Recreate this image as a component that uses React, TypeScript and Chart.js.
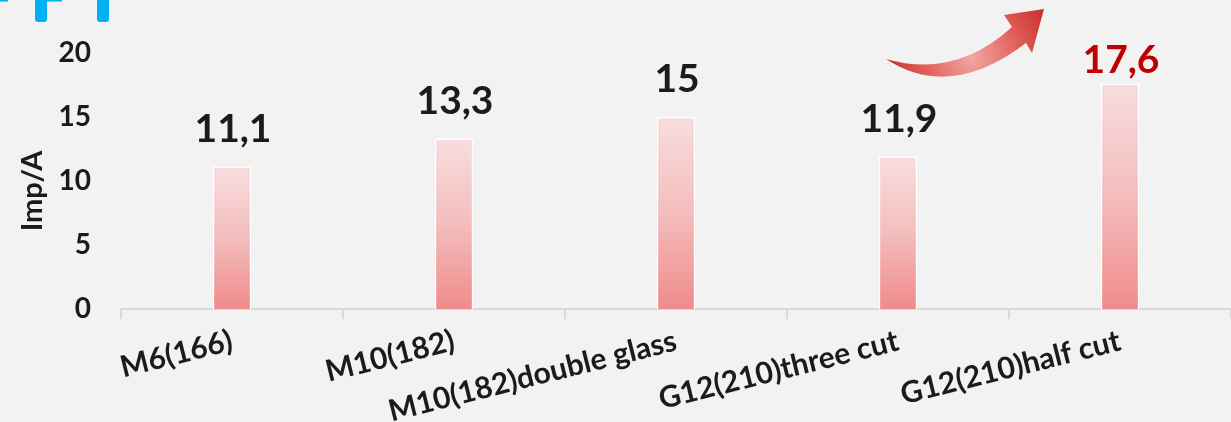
import React, { useEffect, useRef } from "react";
import { Chart, registerables } from "chart.js";

Chart.register(...registerables);

const categories = [
  "M6(166)",
  "M10(182)",
  "M10(182)double glass",
  "G12(210)three cut",
  "G12(210)half cut",
];
const impValues = [11.1, 13.3, 15, 11.9, 17.6];
const valueLabels = ["11,1", "13,3", "15", "11,9", "17,6"];
const yTickValues = [0, 5, 10, 15, 20];
const yAxisTitle = "Imp/A";
const highlightIndex = 4;

const FONT = "Lato, 'Open Sans', sans-serif";
const TEXT_DARK = "#1b1b1b";
const HIGHLIGHT = "#C00000";

const valueLabelPlugin = {
  id: "valueLabels",
  afterDatasetsDraw(chart: any) {
    const ctx = chart.ctx;
    const meta = chart.getDatasetMeta(0);
    ctx.save();
    ctx.font = `bold 39px ${FONT}`;
    ctx.textAlign = "center";
    ctx.textBaseline = "alphabetic";
    meta.data.forEach((bar: any, i: number) => {
      const hl = i === highlightIndex;
      ctx.fillStyle = hl ? HIGHLIGHT : TEXT_DARK;
      ctx.fillText(valueLabels[i], bar.x + 1, bar.y - (hl ? 11 : 25));
    });
    ctx.restore();
  },
};

const yTitlePlugin = {
  id: "yTitle",
  afterDraw(chart: any) {
    const ctx = chart.ctx;
    const area = chart.chartArea;
    ctx.save();
    ctx.translate(42, (area.top + area.bottom) / 2 + 10);
    ctx.rotate(-Math.PI / 2);
    ctx.font = `bold 29px ${FONT}`;
    ctx.fillStyle = TEXT_DARK;
    ctx.textAlign = "center";
    ctx.textBaseline = "alphabetic";
    ctx.fillText(yAxisTitle, 0, 0);
    ctx.restore();
  },
};

const decorPlugin = {
  id: "decor",
  afterDraw(chart: any) {
    const ctx = chart.ctx;
    ctx.save();
    // cropped cyan heading fragments (top-left)
    ctx.fillStyle = "#00B0F0";
    const stem = (x: number, w: number, h: number) => {
      ctx.beginPath();
      ctx.moveTo(x, 0);
      ctx.lineTo(x + w, 0);
      ctx.lineTo(x + w, h - 3);
      ctx.quadraticCurveTo(x + w, h, x + w - 3, h);
      ctx.lineTo(x + 3, h);
      ctx.quadraticCurveTo(x, h, x, h - 3);
      ctx.closePath();
      ctx.fill();
    };
    ctx.fillRect(0, 0, 8, 1.5);
    stem(35, 12, 22);
    ctx.fillRect(47, 0, 15, 1.5);
    stem(97, 12, 22);

    // curved red arrow
    const g = ctx.createRadialGradient(972, 58, 0, 972, 58, 85);
    g.addColorStop(0, "#F3A7A4");
    g.addColorStop(0.55, "#E2605A");
    g.addColorStop(1, "#C8322D");
    ctx.fillStyle = g;
    ctx.beginPath();
    ctx.moveTo(886, 59);
    ctx.quadraticCurveTo(950, 101, 1026, 43);
    ctx.lineTo(1032, 53);
    ctx.lineTo(1044, 9);
    ctx.lineTo(1004, 15);
    ctx.lineTo(1012, 27);
    ctx.quadraticCurveTo(955, 79, 886, 59);
    ctx.closePath();
    ctx.fill();
    ctx.restore();
  },
};

export default function App() {
  const canvasRef = useRef<HTMLCanvasElement | null>(null);

  useEffect(() => {
    if (!canvasRef.current) return;
    const chart = new Chart(canvasRef.current, {
      type: "bar",
      data: {
        labels: categories,
        datasets: [
          {
            data: impValues,
            barThickness: 38,
            borderWidth: 1.5,
            borderColor: "rgba(255,255,255,0.95)",
            backgroundColor: (c: any) => {
              const chartObj = c.chart;
              const ys = chartObj.scales && chartObj.scales.y;
              if (!ys || !chartObj.chartArea) return "#F4BEBE";
              const v = impValues[c.dataIndex];
              const top = ys.getPixelForValue(v);
              const bottom = ys.getPixelForValue(0);
              if (!isFinite(top) || !isFinite(bottom) || top === bottom) return "#F4BEBE";
              const grad = chartObj.ctx.createLinearGradient(0, top, 0, bottom);
              grad.addColorStop(0, "#F8DDDE");
              grad.addColorStop(0.5, "#F4BDBD");
              grad.addColorStop(1, "#F08B8B");
              return grad;
            },
          },
        ],
      },
      options: {
        animation: false,
        responsive: false,
        maintainAspectRatio: false,
        layout: { padding: { top: 53, right: 0, bottom: 0, left: 0 } },
        plugins: {
          legend: { display: false },
          tooltip: { enabled: false },
        },
        scales: {
          x: {
            offset: true,
            grid: {
              display: true,
              offset: true,
              drawOnChartArea: false,
              drawTicks: true,
              tickLength: 10,
              color: "#D9D9D9",
              lineWidth: 2,
            },
            border: { display: true, color: "#D9D9D9", width: 2 },
            ticks: {
              font: { family: FONT, size: 30, weight: "bold" },
              color: TEXT_DARK,
              maxRotation: 14,
              minRotation: 14,
              padding: 4,
              autoSkip: false,
            },
            afterFit: (scale: any) => {
              scale.height = 113;
            },
          },
          y: {
            min: yTickValues[0],
            max: yTickValues[yTickValues.length - 1],
            afterBuildTicks: (scale: any) => {
              scale.ticks = yTickValues.map((v) => ({ value: v }));
            },
            grid: { display: false, drawTicks: false },
            border: { display: false },
            ticks: {
              font: { family: FONT, size: 28, weight: "bold" },
              color: TEXT_DARK,
              padding: 30,
            },
            title: { display: false },
            afterFit: (scale: any) => {
              scale.width = 121;
            },
          },
        },
      },
      plugins: [valueLabelPlugin, yTitlePlugin, decorPlugin],
    } as any);
    return () => chart.destroy();
  }, []);

  return (
    <div
      style={{
        position: "fixed",
        left: 0,
        top: 0,
        width: 1231,
        height: 422,
        background: "#F2F2F2",
        overflow: "hidden",
      }}
    >
      <canvas ref={canvasRef} width={1231} height={422} style={{ display: "block", width: 1231, height: 422 }} />
    </div>
  );
}
